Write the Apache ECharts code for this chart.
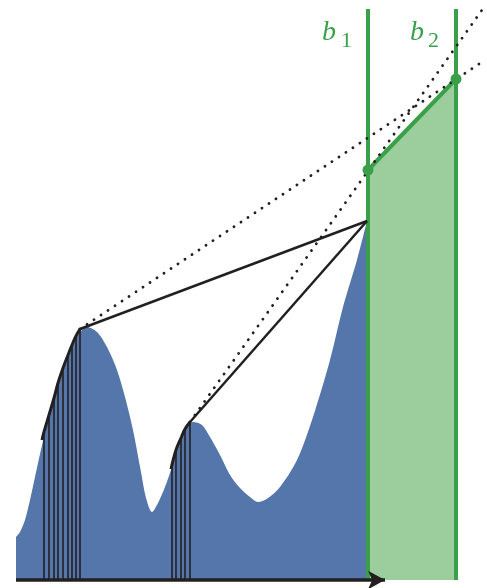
<!DOCTYPE html>
<html><head><meta charset="utf-8">
<script src="https://cdn.jsdelivr.net/npm/echarts@6/dist/echarts.min.js"></script>
<style>html,body{margin:0;padding:0;background:#fff}#c{width:487px;height:588px}</style>
</head><body><div id="c"></div>
<script>
// density curve (x, height above baseline)
const curveX = [16, 20, 25, 30, 35, 40, 44, 49, 54, 58, 63, 68, 72, 76, 80, 87, 97, 107, 117, 125, 133, 141, 146, 152, 158, 165, 172, 178, 185, 193, 202, 210, 220, 230, 240, 250, 258, 268, 280, 297, 313, 330, 343, 357, 367];
const curveY = [43, 48, 60, 80, 103, 126, 143, 162, 180, 194, 209, 222, 232, 241, 248, 253, 248, 233, 210, 183, 150, 108, 82, 68, 77, 93, 113, 133, 150, 158, 155, 143, 125, 105, 92, 83, 78, 82, 93, 120, 163, 220, 273, 320, 359];
// hatched samples under the peaks
const hatch1X = [44, 49, 54, 58, 63, 68, 72, 76, 80];
const hatch1Y = [148, 165, 182, 197, 212, 225, 235, 244, 251];
const hatch2X = [172, 176, 181, 185, 190];
const hatch2Y = [115, 130, 142, 151, 158];
// thick tangent arcs
const arc1X = [42, 44, 49, 54, 58, 63, 68, 72, 76, 80];
const arc1Y = [140, 148, 165, 182, 197, 212, 225, 235, 244, 251];
const arc2X = [171, 176, 181, 185, 190];
const arc2Y = [111, 130, 142, 151, 158];
// apex where solid lines meet
const apex = [367, 359];
// dotted line endpoints
const dot1 = [[80, 251], [482, 518]];
const dot2 = [[190, 158], [482, 570]];
// boundaries
const b1X = 368, b2X = 456, bTop = 571;
const safeTop = [[368, 410], [456, 501]];
const axisStart = 16, axisEnd = 385;

const blue = '#5476aa', green = '#3a9f49', lightGreen = '#9bce9c', black = '#231f20';
const pts = (xs, ys) => xs.map((x, i) => [x, ys[i]]);
const seg = (data, style) => ({ type: 'line', data, symbol: 'none', silent: true, lineStyle: style });
const hatchSeries = (xs, ys) => xs.map((x, i) => seg([[x, 0], [x, ys[i]]], { color: black, width: 1.6 }));

const chart = echarts.init(document.getElementById('c'), null, { renderer: 'canvas' });
chart.setOption({
  animation: false,
  grid: { left: 0, right: 0, top: 0, bottom: 0 },
  xAxis: { type: 'value', min: 0, max: 487, show: false },
  yAxis: { type: 'value', min: -8, max: 580, show: false },
  series: [
    { type: 'line', data: pts(curveX, curveY), smooth: 0.3, symbol: 'none',
      lineStyle: { width: 0 }, areaStyle: { color: blue, opacity: 1 } },
    ...hatchSeries(hatch1X, hatch1Y),
    ...hatchSeries(hatch2X, hatch2Y),
    { type: 'line', data: safeTop, symbol: 'none', lineStyle: { width: 0 },
      areaStyle: { color: lightGreen, opacity: 1 } },
    seg([[b1X, 0], [b1X, bTop]], { color: green, width: 4 }),
    seg([[b2X, 0], [b2X, bTop]], { color: green, width: 4 }),
    { type: 'line', data: safeTop, symbol: 'circle', symbolSize: 11,
      itemStyle: { color: green }, lineStyle: { color: green, width: 4 } },
    seg([[arc1X[arc1X.length - 1], arc1Y[arc1Y.length - 1]], apex], { color: black, width: 2.5 }),
    seg([[arc2X[arc2X.length - 1], arc2Y[arc2Y.length - 1]], apex], { color: black, width: 2.5 }),
    seg(dot1, { color: black, width: 2.8, type: [0.1, 8.3], cap: 'round' }),
    seg(dot2, { color: black, width: 2.8, type: [0.1, 8.3], cap: 'round' }),
    { type: 'line', data: pts(arc1X, arc1Y), smooth: 0.4, symbol: 'none', lineStyle: { color: black, width: 3 } },
    { type: 'line', data: pts(arc2X, arc2Y), smooth: 0.4, symbol: 'none', lineStyle: { color: black, width: 3 } },
    { type: 'line', symbol: 'none', clip: false, lineStyle: { color: black, width: 3.5 },
      data: [[axisStart, 0], { value: [axisEnd, 0], symbol: 'arrow', symbolRotate: -90, symbolSize: [14, 17],
        itemStyle: { color: black } }], showSymbol: true }
  ],
  graphic: [
    { type: 'text', left: 322, top: 19, style: { text: 'b', font: 'italic 28px "Liberation Serif"', fill: green } },
    { type: 'text', left: 341, top: 30, style: { text: '1', font: '22px "Liberation Serif"', fill: green } },
    { type: 'text', left: 410, top: 19, style: { text: 'b', font: 'italic 28px "Liberation Serif"', fill: green } },
    { type: 'text', left: 428, top: 30, style: { text: '2', font: '22px "Liberation Serif"', fill: green } },
    { type: 'text', x: 406, y: 334, style: { text: 'safe', font: '26px "Liberation Serif"', fill: black, align: 'center', verticalAlign: 'middle' } },
    { type: 'text', x: 405, y: 374, style: { text: 'zone', font: '26px "Liberation Serif"', fill: black, align: 'center', verticalAlign: 'middle' } }
  ]
});
</script>
</body></html>
